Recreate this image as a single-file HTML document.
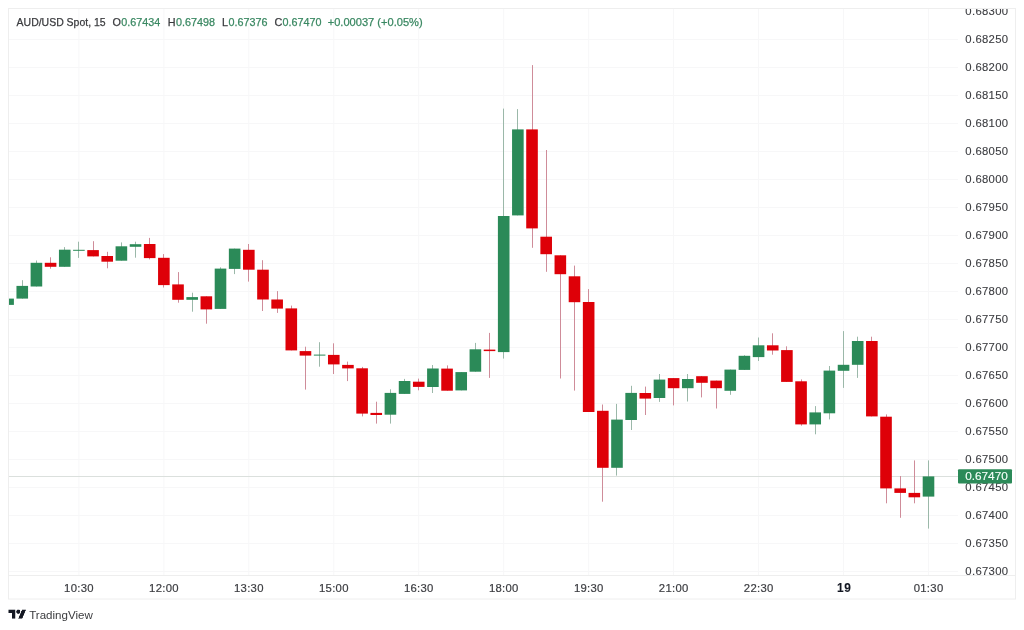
<!DOCTYPE html>
<html><head><meta charset="utf-8"><style>
html,body{margin:0;padding:0;background:#fff;}
body{width:1024px;height:630px;overflow:hidden;}
svg{display:block;font-family:"Liberation Sans",sans-serif;will-change:transform;}
</style></head><body>
<svg width="1024" height="630" viewBox="0 0 1024 630">
<defs><clipPath id="clip"><rect x="9" y="9" width="949" height="566"/></clipPath>
<clipPath id="clip2"><rect x="958" y="9" width="57" height="566"/></clipPath></defs>
<g stroke="#f7f7f8" stroke-width="1"><line x1="8.5" y1="39.5" x2="958" y2="39.5"/><line x1="8.5" y1="67.5" x2="958" y2="67.5"/><line x1="8.5" y1="95.5" x2="958" y2="95.5"/><line x1="8.5" y1="123.5" x2="958" y2="123.5"/><line x1="8.5" y1="151.5" x2="958" y2="151.5"/><line x1="8.5" y1="179.5" x2="958" y2="179.5"/><line x1="8.5" y1="207.5" x2="958" y2="207.5"/><line x1="8.5" y1="235.5" x2="958" y2="235.5"/><line x1="8.5" y1="263.5" x2="958" y2="263.5"/><line x1="8.5" y1="291.5" x2="958" y2="291.5"/><line x1="8.5" y1="319.5" x2="958" y2="319.5"/><line x1="8.5" y1="347.5" x2="958" y2="347.5"/><line x1="8.5" y1="375.5" x2="958" y2="375.5"/><line x1="8.5" y1="403.5" x2="958" y2="403.5"/><line x1="8.5" y1="431.5" x2="958" y2="431.5"/><line x1="8.5" y1="459.5" x2="958" y2="459.5"/><line x1="8.5" y1="487.5" x2="958" y2="487.5"/><line x1="8.5" y1="515.5" x2="958" y2="515.5"/><line x1="8.5" y1="543.5" x2="958" y2="543.5"/><line x1="8.5" y1="571.5" x2="958" y2="571.5"/><line x1="78.9" y1="8.5" x2="78.9" y2="575"/><line x1="163.9" y1="8.5" x2="163.9" y2="575"/><line x1="248.8" y1="8.5" x2="248.8" y2="575"/><line x1="333.8" y1="8.5" x2="333.8" y2="575"/><line x1="418.7" y1="8.5" x2="418.7" y2="575"/><line x1="503.7" y1="8.5" x2="503.7" y2="575"/><line x1="588.7" y1="8.5" x2="588.7" y2="575"/><line x1="673.6" y1="8.5" x2="673.6" y2="575"/><line x1="758.6" y1="8.5" x2="758.6" y2="575"/><line x1="843.5" y1="8.5" x2="843.5" y2="575"/><line x1="928.5" y1="8.5" x2="928.5" y2="575"/></g>
<line x1="8.5" y1="476.5" x2="958" y2="476.5" stroke="#dbe0dd" stroke-width="1"/>
<g clip-path="url(#clip)" stroke-width="1"><line x1="8.50" y1="298.6" x2="8.50" y2="304.9" stroke="#9bb8a9"/><line x1="22.50" y1="280.2" x2="22.50" y2="298.6" stroke="#9bb8a9"/><line x1="36.50" y1="260.5" x2="36.50" y2="286.5" stroke="#9bb8a9"/><line x1="50.50" y1="257.3" x2="50.50" y2="268.7" stroke="#cf8c99"/><line x1="64.50" y1="247.1" x2="64.50" y2="266.8" stroke="#9bb8a9"/><line x1="78.50" y1="241.7" x2="78.50" y2="257.9" stroke="#9bb8a9"/><line x1="93.50" y1="241.2" x2="93.50" y2="256.4" stroke="#cf8c99"/><line x1="107.50" y1="251.8" x2="107.50" y2="268.3" stroke="#cf8c99"/><line x1="121.50" y1="242.4" x2="121.50" y2="260.7" stroke="#9bb8a9"/><line x1="135.50" y1="241.7" x2="135.50" y2="257.7" stroke="#9bb8a9"/><line x1="149.50" y1="237.9" x2="149.50" y2="259.4" stroke="#cf8c99"/><line x1="163.50" y1="254.1" x2="163.50" y2="287.5" stroke="#cf8c99"/><line x1="178.50" y1="272.1" x2="178.50" y2="302.7" stroke="#cf8c99"/><line x1="192.50" y1="292.7" x2="192.50" y2="311.7" stroke="#9bb8a9"/><line x1="206.50" y1="296.3" x2="206.50" y2="323.7" stroke="#cf8c99"/><line x1="220.50" y1="267.3" x2="220.50" y2="308.9" stroke="#9bb8a9"/><line x1="234.50" y1="248.6" x2="234.50" y2="274.1" stroke="#9bb8a9"/><line x1="248.50" y1="244.0" x2="248.50" y2="281.6" stroke="#cf8c99"/><line x1="262.50" y1="260.2" x2="262.50" y2="311.0" stroke="#cf8c99"/><line x1="277.50" y1="291.1" x2="277.50" y2="312.9" stroke="#cf8c99"/><line x1="291.50" y1="305.6" x2="291.50" y2="350.4" stroke="#cf8c99"/><line x1="305.50" y1="346.7" x2="305.50" y2="389.6" stroke="#cf8c99"/><line x1="319.50" y1="342.2" x2="319.50" y2="366.7" stroke="#9bb8a9"/><line x1="333.50" y1="343.3" x2="333.50" y2="374.0" stroke="#cf8c99"/><line x1="347.50" y1="361.6" x2="347.50" y2="381.1" stroke="#cf8c99"/><line x1="362.50" y1="366.9" x2="362.50" y2="416.4" stroke="#cf8c99"/><line x1="376.50" y1="401.7" x2="376.50" y2="423.6" stroke="#cf8c99"/><line x1="390.50" y1="389.3" x2="390.50" y2="423.6" stroke="#9bb8a9"/><line x1="404.50" y1="378.9" x2="404.50" y2="393.9" stroke="#9bb8a9"/><line x1="418.50" y1="378.6" x2="418.50" y2="390.3" stroke="#cf8c99"/><line x1="432.50" y1="365.0" x2="432.50" y2="393.0" stroke="#9bb8a9"/><line x1="447.50" y1="365.4" x2="447.50" y2="390.7" stroke="#cf8c99"/><line x1="461.50" y1="372.1" x2="461.50" y2="390.4" stroke="#9bb8a9"/><line x1="475.50" y1="342.9" x2="475.50" y2="371.7" stroke="#9bb8a9"/><line x1="489.50" y1="332.9" x2="489.50" y2="377.9" stroke="#cf8c99"/><line x1="503.50" y1="108.6" x2="503.50" y2="358.6" stroke="#9bb8a9"/><line x1="517.50" y1="109.1" x2="517.50" y2="215.4" stroke="#9bb8a9"/><line x1="532.50" y1="65.1" x2="532.50" y2="247.8" stroke="#cf8c99"/><line x1="546.50" y1="150.0" x2="546.50" y2="271.8" stroke="#cf8c99"/><line x1="560.50" y1="255.3" x2="560.50" y2="378.5" stroke="#cf8c99"/><line x1="574.50" y1="265.6" x2="574.50" y2="390.6" stroke="#cf8c99"/><line x1="588.50" y1="289.1" x2="588.50" y2="412.0" stroke="#cf8c99"/><line x1="602.50" y1="404.5" x2="602.50" y2="501.7" stroke="#cf8c99"/><line x1="616.50" y1="403.9" x2="616.50" y2="475.6" stroke="#9bb8a9"/><line x1="631.50" y1="385.8" x2="631.50" y2="430.0" stroke="#9bb8a9"/><line x1="645.50" y1="386.6" x2="645.50" y2="415.0" stroke="#cf8c99"/><line x1="659.50" y1="374.0" x2="659.50" y2="401.9" stroke="#9bb8a9"/><line x1="673.50" y1="378.1" x2="673.50" y2="405.4" stroke="#cf8c99"/><line x1="687.50" y1="374.0" x2="687.50" y2="401.5" stroke="#9bb8a9"/><line x1="701.50" y1="376.2" x2="701.50" y2="397.4" stroke="#cf8c99"/><line x1="716.50" y1="380.6" x2="716.50" y2="408.5" stroke="#cf8c99"/><line x1="730.50" y1="369.6" x2="730.50" y2="394.8" stroke="#9bb8a9"/><line x1="744.50" y1="355.2" x2="744.50" y2="369.9" stroke="#9bb8a9"/><line x1="758.50" y1="337.5" x2="758.50" y2="361.0" stroke="#9bb8a9"/><line x1="772.50" y1="333.3" x2="772.50" y2="354.7" stroke="#cf8c99"/><line x1="786.50" y1="346.3" x2="786.50" y2="381.9" stroke="#cf8c99"/><line x1="801.50" y1="379.4" x2="801.50" y2="425.7" stroke="#cf8c99"/><line x1="815.50" y1="406.1" x2="815.50" y2="434.3" stroke="#9bb8a9"/><line x1="829.50" y1="366.0" x2="829.50" y2="419.4" stroke="#9bb8a9"/><line x1="843.50" y1="331.1" x2="843.50" y2="387.9" stroke="#9bb8a9"/><line x1="857.50" y1="336.7" x2="857.50" y2="377.9" stroke="#9bb8a9"/><line x1="871.50" y1="336.7" x2="871.50" y2="416.4" stroke="#cf8c99"/><line x1="886.50" y1="414.4" x2="886.50" y2="503.3" stroke="#cf8c99"/><line x1="900.50" y1="476.0" x2="900.50" y2="517.8" stroke="#cf8c99"/><line x1="914.50" y1="460.4" x2="914.50" y2="503.3" stroke="#cf8c99"/><line x1="928.50" y1="460.4" x2="928.50" y2="528.6" stroke="#9bb8a9"/><rect x="2.30" y="298.6" width="11.60" height="6.3" fill="#2b8a58"/><rect x="16.46" y="285.9" width="11.60" height="12.7" fill="#2b8a58"/><rect x="30.62" y="262.8" width="11.60" height="23.7" fill="#2b8a58"/><rect x="44.78" y="262.8" width="11.60" height="4.0" fill="#de0008"/><rect x="58.94" y="249.7" width="11.60" height="17.1" fill="#2b8a58"/><rect x="73.10" y="249.8" width="11.60" height="1.0" fill="#2b8a58"/><rect x="87.26" y="250.1" width="11.60" height="6.3" fill="#de0008"/><rect x="101.42" y="256.0" width="11.60" height="5.7" fill="#de0008"/><rect x="115.58" y="246.3" width="11.60" height="14.4" fill="#2b8a58"/><rect x="129.74" y="244.2" width="11.60" height="2.6" fill="#2b8a58"/><rect x="143.90" y="244.0" width="11.60" height="14.1" fill="#de0008"/><rect x="158.06" y="257.8" width="11.60" height="27.3" fill="#de0008"/><rect x="172.22" y="284.4" width="11.60" height="15.4" fill="#de0008"/><rect x="186.38" y="297.1" width="11.60" height="2.7" fill="#2b8a58"/><rect x="200.54" y="296.3" width="11.60" height="13.1" fill="#de0008"/><rect x="214.70" y="268.6" width="11.60" height="40.3" fill="#2b8a58"/><rect x="228.86" y="248.6" width="11.60" height="20.3" fill="#2b8a58"/><rect x="243.02" y="249.8" width="11.60" height="19.9" fill="#de0008"/><rect x="257.18" y="269.7" width="11.60" height="29.8" fill="#de0008"/><rect x="271.34" y="299.5" width="11.60" height="9.1" fill="#de0008"/><rect x="285.50" y="308.4" width="11.60" height="42.0" fill="#de0008"/><rect x="299.66" y="351.1" width="11.60" height="4.5" fill="#de0008"/><rect x="313.82" y="354.6" width="11.60" height="1.0" fill="#2b8a58"/><rect x="327.98" y="354.9" width="11.60" height="9.5" fill="#de0008"/><rect x="342.14" y="364.9" width="11.60" height="3.5" fill="#de0008"/><rect x="356.30" y="368.3" width="11.60" height="45.3" fill="#de0008"/><rect x="370.46" y="412.9" width="11.60" height="2.1" fill="#de0008"/><rect x="384.62" y="392.9" width="11.60" height="21.8" fill="#2b8a58"/><rect x="398.78" y="381.0" width="11.60" height="12.9" fill="#2b8a58"/><rect x="412.94" y="381.7" width="11.60" height="5.2" fill="#de0008"/><rect x="427.10" y="368.5" width="11.60" height="18.5" fill="#2b8a58"/><rect x="441.26" y="368.6" width="11.60" height="22.1" fill="#de0008"/><rect x="455.42" y="372.1" width="11.60" height="18.3" fill="#2b8a58"/><rect x="469.58" y="349.3" width="11.60" height="22.4" fill="#2b8a58"/><rect x="483.74" y="349.6" width="11.60" height="1.5" fill="#de0008"/><rect x="497.90" y="216.0" width="11.60" height="136.1" fill="#2b8a58"/><rect x="512.06" y="129.4" width="11.60" height="86.0" fill="#2b8a58"/><rect x="526.22" y="129.4" width="11.60" height="99.0" fill="#de0008"/><rect x="540.38" y="236.7" width="11.60" height="17.5" fill="#de0008"/><rect x="554.54" y="255.3" width="11.60" height="18.9" fill="#de0008"/><rect x="568.70" y="276.3" width="11.60" height="25.9" fill="#de0008"/><rect x="582.86" y="302.0" width="11.60" height="110.0" fill="#de0008"/><rect x="597.02" y="410.8" width="11.60" height="57.0" fill="#de0008"/><rect x="611.18" y="419.6" width="11.60" height="48.2" fill="#2b8a58"/><rect x="625.34" y="392.9" width="11.60" height="27.1" fill="#2b8a58"/><rect x="639.50" y="393.0" width="11.60" height="5.6" fill="#de0008"/><rect x="653.66" y="379.6" width="11.60" height="18.4" fill="#2b8a58"/><rect x="667.82" y="378.1" width="11.60" height="10.1" fill="#de0008"/><rect x="681.98" y="379.0" width="11.60" height="9.2" fill="#2b8a58"/><rect x="696.14" y="376.2" width="11.60" height="6.6" fill="#de0008"/><rect x="710.30" y="380.6" width="11.60" height="7.6" fill="#de0008"/><rect x="724.46" y="369.6" width="11.60" height="21.2" fill="#2b8a58"/><rect x="738.62" y="355.8" width="11.60" height="14.1" fill="#2b8a58"/><rect x="752.78" y="345.3" width="11.60" height="11.8" fill="#2b8a58"/><rect x="766.94" y="345.3" width="11.60" height="5.2" fill="#de0008"/><rect x="781.10" y="350.1" width="11.60" height="31.8" fill="#de0008"/><rect x="795.26" y="381.3" width="11.60" height="43.1" fill="#de0008"/><rect x="809.42" y="412.4" width="11.60" height="12.0" fill="#2b8a58"/><rect x="823.58" y="370.6" width="11.60" height="42.7" fill="#2b8a58"/><rect x="837.74" y="364.8" width="11.60" height="6.0" fill="#2b8a58"/><rect x="851.90" y="341.0" width="11.60" height="23.8" fill="#2b8a58"/><rect x="866.06" y="341.0" width="11.60" height="75.4" fill="#de0008"/><rect x="880.22" y="416.7" width="11.60" height="71.7" fill="#de0008"/><rect x="894.38" y="488.4" width="11.60" height="4.5" fill="#de0008"/><rect x="908.54" y="492.9" width="11.60" height="4.4" fill="#de0008"/><rect x="922.70" y="476.4" width="11.60" height="20.2" fill="#2b8a58"/></g>
<g font-size="11.3" letter-spacing="0.3" fill="#3b3c40" stroke="#3b3c40" stroke-width="0.12" text-anchor="end" clip-path="url(#clip2)"><text x="1008.3" y="15.4">0.68300</text><text x="1008.3" y="43.4">0.68250</text><text x="1008.3" y="71.4">0.68200</text><text x="1008.3" y="99.4">0.68150</text><text x="1008.3" y="127.4">0.68100</text><text x="1008.3" y="155.4">0.68050</text><text x="1008.3" y="183.4">0.68000</text><text x="1008.3" y="211.4">0.67950</text><text x="1008.3" y="239.4">0.67900</text><text x="1008.3" y="267.4">0.67850</text><text x="1008.3" y="295.4">0.67800</text><text x="1008.3" y="323.4">0.67750</text><text x="1008.3" y="351.4">0.67700</text><text x="1008.3" y="379.4">0.67650</text><text x="1008.3" y="407.4">0.67600</text><text x="1008.3" y="435.4">0.67550</text><text x="1008.3" y="463.4">0.67500</text><text x="1008.3" y="491.4">0.67450</text><text x="1008.3" y="519.4">0.67400</text><text x="1008.3" y="547.4">0.67350</text><text x="1008.3" y="575.4">0.67300</text></g>
<rect x="958" y="469.3" width="54" height="14.2" rx="1" fill="#2b8a58"/>
<text x="1007.8" y="480.4" font-size="11.8" fill="#f4fff8" stroke="#f4fff8" stroke-width="0.15" text-anchor="end">0.67470</text>
<g font-size="11.3" fill="#3b3c40" stroke="#3b3c40" stroke-width="0.2" text-anchor="middle" letter-spacing="0.3"><text x="79.0" y="591.9">10:30</text><text x="164.0" y="591.9">12:00</text><text x="248.9" y="591.9">13:30</text><text x="333.9" y="591.9">15:00</text><text x="418.8" y="591.9">16:30</text><text x="503.8" y="591.9">18:00</text><text x="588.8" y="591.9">19:30</text><text x="673.7" y="591.9">21:00</text><text x="758.7" y="591.9">22:30</text><text x="844.3" y="591.8" font-weight="bold" fill="#131722" stroke="#131722" stroke-width="0.1" font-size="11.9" letter-spacing="0.8">19</text><text x="928.6" y="591.9">01:30</text></g>
<rect x="8.5" y="8.5" width="1007" height="590.5" fill="none" stroke="#eeeeee"/>
<line x1="8.5" y1="575.5" x2="1015.5" y2="575.5" stroke="#eeeeee"/>
<g font-size="10.8" stroke-width="0.25">
<text x="16.6" y="26.2" fill="#3a3b3e" stroke="#3a3b3e" textLength="89" lengthAdjust="spacingAndGlyphs">AUD/USD Spot, 15</text>
<text x="112.6" y="26.2" fill="#3a3b3e" stroke="#3a3b3e">O</text><text x="121.2" y="26.2" fill="#3a8862" stroke="#3a8862" textLength="39" lengthAdjust="spacingAndGlyphs">0.67434</text>
<text x="167.7" y="26.2" fill="#3a3b3e" stroke="#3a3b3e">H</text><text x="175.9" y="26.2" fill="#3a8862" stroke="#3a8862" textLength="39" lengthAdjust="spacingAndGlyphs">0.67498</text>
<text x="222.1" y="26.2" fill="#3a3b3e" stroke="#3a3b3e">L</text><text x="228.6" y="26.2" fill="#3a8862" stroke="#3a8862" textLength="39" lengthAdjust="spacingAndGlyphs">0.67376</text>
<text x="274.5" y="26.2" fill="#3a3b3e" stroke="#3a3b3e">C</text><text x="282.5" y="26.2" fill="#3a8862" stroke="#3a8862" textLength="39" lengthAdjust="spacingAndGlyphs">0.67470</text>
<text x="327.7" y="26.2" fill="#3a8862" stroke="#3a8862" textLength="95" lengthAdjust="spacingAndGlyphs">+0.00037 (+0.05%)</text>
</g>
<svg x="8.5" y="609.6" width="17.4" height="9.1" viewBox="0 4 35.5 18"><path d="M14 22H7V11H0V4h14v18zM28 22h-8l7.5-18h8L28 22z" fill="#131722"/><circle cx="20" cy="8" r="4" fill="#131722"/></svg>
<text x="29.2" y="618.7" font-size="11.4" fill="#3a3b3e" textLength="63.6" lengthAdjust="spacingAndGlyphs">TradingView</text>
</svg>
</body></html>
